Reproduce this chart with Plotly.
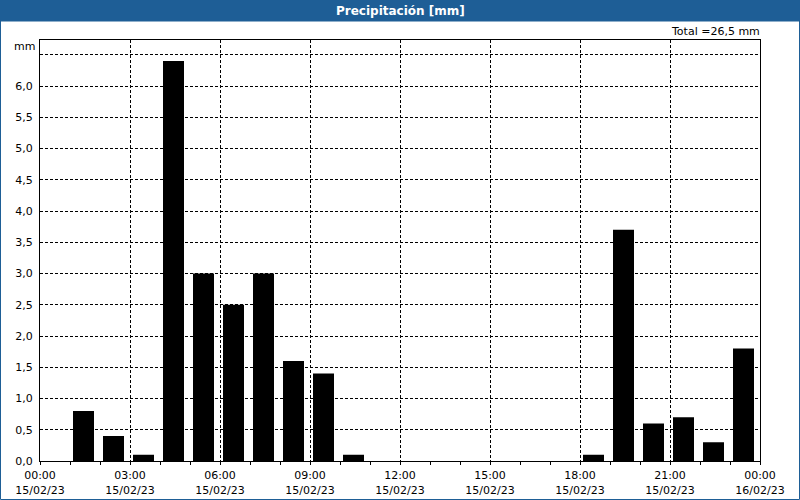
import plotly.graph_objects as go

hours = list(range(24))
precip = [0, 0.8, 0.4, 0.1, 6.4, 3.0, 2.5, 3.0, 1.6, 1.4, 0.1, 0, 0, 0, 0, 0, 0, 0,
          0.1, 3.7, 0.6, 0.7, 0.3, 1.8]
x_tick_vals = [0, 3, 6, 9, 12, 15, 18, 21, 24]
x_tick_text = ["00:00<br>15/02/23", "03:00<br>15/02/23", "06:00<br>15/02/23",
               "09:00<br>15/02/23", "12:00<br>15/02/23", "15:00<br>15/02/23",
               "18:00<br>15/02/23", "21:00<br>15/02/23", "00:00<br>16/02/23"]
y_tick_vals = [0, 0.5, 1, 1.5, 2, 2.5, 3, 3.5, 4, 4.5, 5, 5.5, 6, 6.5]
y_tick_text = ["0,0", "0,5", "1,0", "1,5", "2,0", "2,5", "3,0", "3,5", "4,0",
               "4,5", "5,0", "5,5", "6,0", ""]
title = "Precipitación [mm]"
total_text = "Total =26,5 mm"

W, H = 800, 500
L, R, T, B = 40, 40, 40, 39
pw, ph = W - L - R, H - T - B

def px(x):
    return (x - L) / pw

def py(y):
    return (H - B - y) / ph

FONT = "DejaVu Sans"
BLUE = "#1e5e96"

fig = go.Figure()
fig.add_trace(go.Bar(
    x=[h + 0.45 for h in hours], y=precip, width=0.7,
    marker=dict(color="#000000", line=dict(width=0)),
    hoverinfo="skip",
))

fig.update_layout(
    width=W, height=H,
    margin=dict(l=L, r=R, t=T, b=B, pad=0, autoexpand=False),
    paper_bgcolor="white", plot_bgcolor="white",
    showlegend=False,
    font=dict(family=FONT, size=11, color="#000000"),
    xaxis=dict(
        range=[0, 24], tickmode="array", tickvals=x_tick_vals, ticktext=x_tick_text,
        showgrid=True, gridcolor="#000000", gridwidth=1, griddash="3px,2px",
        showline=True, linecolor="#000000", linewidth=1, mirror=True,
        ticks="", zeroline=False, automargin=False, ticklabelstandoff=4,
        minor=dict(dtick=1, tick0=0, ticks="outside", ticklen=3, tickcolor="#000000", showgrid=False),
        tickfont=dict(family=FONT, size=11),
    ),
    yaxis=dict(
        range=[0, 6.736], tickmode="array", tickvals=y_tick_vals, ticktext=y_tick_text,
        showgrid=True, gridcolor="#000000", gridwidth=1, griddash="3px,2px",
        showline=True, linecolor="#000000", linewidth=1, mirror=True,
        ticks="", zeroline=False, ticklabelstandoff=4, automargin=False,
        tickfont=dict(family=FONT, size=11),
    ),
    shapes=[
        dict(type="rect", xref="paper", yref="paper", x0=px(0), x1=px(W), y0=py(21), y1=py(0),
             fillcolor=BLUE, line=dict(width=0), layer="above"),
        dict(type="rect", xref="paper", yref="paper", x0=px(0.5), x1=px(W - 0.5), y0=py(H - 0.5), y1=py(21),
             fillcolor="rgba(0,0,0,0)", line=dict(color=BLUE, width=1), layer="above"),
    ],
    annotations=[
        dict(text="<b>" + title + "</b>", xref="paper", yref="paper", x=0.5, y=py(10.5),
             xanchor="center", yanchor="middle", showarrow=False,
             font=dict(family=FONT, size=12, color="white")),
        dict(text=total_text, xref="paper", yref="paper", x=px(762), y=py(32),
             xanchor="right", yanchor="middle", showarrow=False,
             font=dict(family=FONT, size=11)),
        dict(text="mm", xref="paper", yref="paper", x=px(37), y=py(46),
             xanchor="right", yanchor="middle", showarrow=False,
             font=dict(family=FONT, size=11)),
    ],
)

fig.write_html("out.html")
